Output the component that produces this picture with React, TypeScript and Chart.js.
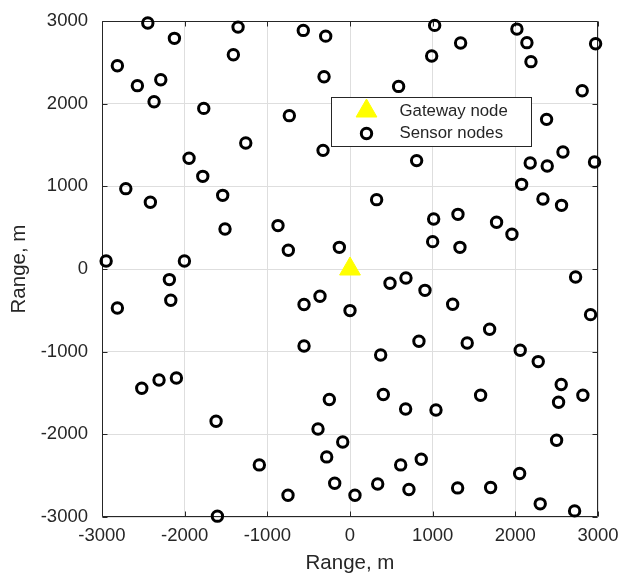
import React, { useEffect, useRef } from 'react';
import { Chart, registerables } from 'chart.js';

Chart.register(...registerables);

const gatewayX = [0];
const gatewayY = [0];

const sensorX = [
  -2446, -2124, -1354, -565, -294, -1411, -2814, -2572, -2289, -2370,
  -314, -1769, -734, -1261, -326, -1947, -1781, -2712, -2415, -1540,
  -1512, -871, -746, -129, -2950, -2003, 1024, 2019, 2140, 1338,
  2971, 988, 2189, 588, 2809, 2378, 806, 2576, 2180, 2386,
  2958, 2076, 322, 2334, 2559, 1012, 1306, 1773, 1959, 1000,
  1330, -2185, -2168, -2814, -556, -363, 0, -556, -2519, -2310,
  -2100, -250, -1620, -387, -88, -282, -1097, -185, -750, 60,
  -1604, 484, 677, 907, 1242, 2729, 2910, 1689, 834, 1418,
  371, 2059, 2277, 2555, 2523, 2817, 403, 673, 1040, 1580,
  2499, 862, 613, 335, 713, 1302, 1701, 2052, 2301, 2717,
];
const sensorY = [
  2975, 2790, 2926, 2886, 2817, 2592, 2459, 2218, 2290, 2024,
  2326, 1943, 1855, 1524, 1435, 1339, 1121, 972, 807, 891,
  484, 525, 226, 262, 97, 97, 2947, 2902, 2738, 2733,
  2725, 2576, 2508, 2209, 2157, 1810, 1311, 1415, 1282, 1246,
  1294, 1024, 839, 847, 770, 605, 661, 565, 420, 331,
  262, -128, -378, -472, -430, -330, -503, -931, -1443, -1342,
  -1318, -1579, -1842, -1935, -2092, -2273, -2370, -2591, -2736, -2737,
  -2990, -173, -108, -258, -427, -97, -552, -729, -874, -895,
  -1040, -983, -1120, -1398, -1612, -1527, -1519, -1693, -1705, -1527,
  -2071, -2301, -2370, -2600, -2668, -2648, -2643, -2474, -2841, -2926,
];

const tickValues = [-3000, -2000, -1000, 0, 1000, 2000, 3000];
const xTitle = 'Range, m';
const yTitle = 'Range, m';
const seriesLabels = ['Gateway node', 'Sensor nodes'];

const AXIS = '#262626';
const GRID = '#dedede';
const YELLOW = '#ffff00';
const FONT = "'Liberation Sans', Arial, Helvetica, sans-serif";

function drawTriangle(ctx: CanvasRenderingContext2D, x: number, y: number, r: number) {
  const TWO_THIRDS_PI = (2 * Math.PI) / 3;
  let rad = 0;
  ctx.beginPath();
  ctx.moveTo(x + Math.sin(rad) * r, y - Math.cos(rad) * r);
  rad += TWO_THIRDS_PI;
  ctx.lineTo(x + Math.sin(rad) * r, y - Math.cos(rad) * r);
  rad += TWO_THIRDS_PI;
  ctx.lineTo(x + Math.sin(rad) * r, y - Math.cos(rad) * r);
  ctx.closePath();
}

const boxPlugin = {
  id: 'matlabBox',
  beforeDatasetsDraw(chart: any) {
    const { ctx, chartArea: a, scales } = chart;
    ctx.save();
    ctx.strokeStyle = AXIS;
    ctx.lineWidth = 1;
    const L = Math.round(a.left) + 0.5;
    const R = Math.round(a.right) - 0.5;
    const T = Math.round(a.top) + 0.5;
    const B = Math.round(a.bottom) - 0.5;
    ctx.beginPath();
    ctx.rect(L, T, R - L, B - T);
    const tl = 5;
    scales.x.ticks.forEach((t: any) => {
      const px = Math.round(scales.x.getPixelForValue(t.value)) + 0.5;
      ctx.moveTo(px, B);
      ctx.lineTo(px, B - tl);
      ctx.moveTo(px, T);
      ctx.lineTo(px, T + tl);
    });
    scales.y.ticks.forEach((t: any) => {
      const py = Math.round(scales.y.getPixelForValue(t.value)) + 0.5;
      ctx.moveTo(L, py);
      ctx.lineTo(L + tl, py);
      ctx.moveTo(R, py);
      ctx.lineTo(R - tl, py);
    });
    ctx.stroke();
    ctx.restore();
  },
};

const legendPlugin = {
  id: 'matlabLegend',
  afterDraw(chart: any) {
    const { ctx, chartArea: a } = chart;
    const ds = chart.data.datasets;
    const L = Math.round(a.left + 229) + 0.5;
    const T = Math.round(a.top + 76) + 0.5;
    const W = 200;
    const H = 49;
    ctx.save();
    ctx.fillStyle = '#ffffff';
    ctx.fillRect(L, T, W, H);
    ctx.strokeStyle = AXIS;
    ctx.lineWidth = 1;
    ctx.strokeRect(L, T, W, H);

    // gateway symbol
    drawTriangle(ctx, L + 35, T + 13.5, ds[0].pointRadius);
    ctx.fillStyle = ds[0].backgroundColor;
    ctx.fill();
    ctx.strokeStyle = ds[0].borderColor;
    ctx.lineWidth = ds[0].borderWidth;
    ctx.stroke();

    // sensor symbol
    ctx.beginPath();
    ctx.arc(L + 35, T + 36, ds[1].pointRadius, 0, Math.PI * 2);
    ctx.strokeStyle = ds[1].borderColor;
    ctx.lineWidth = ds[1].borderWidth;
    ctx.stroke();

    ctx.fillStyle = AXIS;
    ctx.font = `16.8px ${FONT}`;
    ctx.textAlign = 'left';
    ctx.textBaseline = 'middle';
    ctx.fillText(ds[0].label, L + 68, T + 13.5);
    ctx.fillText(ds[1].label, L + 68, T + 36);
    ctx.restore();
  },
};

function zeroPadding(s: any) {
  s.paddingLeft = 0;
  s.paddingRight = 0;
  s.paddingTop = 0;
  s.paddingBottom = 0;
}

export default function App() {
  const ref = useRef<HTMLCanvasElement | null>(null);

  useEffect(() => {
    if (!ref.current) return;
    const gateway = gatewayX.map((x, i) => ({ x, y: gatewayY[i] }));
    const sensors = sensorX.map((x, i) => ({ x, y: sensorY[i] }));

    const axisCommon = (title: string) => ({
      type: 'linear' as const,
      min: -3000,
      max: 3000,
      afterBuildTicks: (s: any) => {
        s.ticks = tickValues.map((v) => ({ value: v }));
      },
      ticks: {
        font: { family: FONT, size: 18.5 },
        color: AXIS,
        maxRotation: 0,
        autoSkip: false,
        callback: (v: any) => String(v),
      },
      grid: { color: GRID, lineWidth: 1, drawTicks: false },
      border: { display: false },
      title: {
        display: true,
        text: title,
        color: AXIS,
        font: { family: FONT, size: 20.5, lineHeight: 1 },
      },
    });

    const xAxis: any = axisCommon(xTitle);
    xAxis.ticks.padding = 8;
    xAxis.title.padding = { top: 0, bottom: 0 };
    xAxis.afterFit = (s: any) => {
      s.height = 57;
      zeroPadding(s);
    };
    const yAxis: any = axisCommon(yTitle);
    yAxis.ticks.padding = 14;
    yAxis.title.padding = { top: 9, bottom: 0 };
    yAxis.afterFit = (s: any) => {
      s.width = 102;
      zeroPadding(s);
    };

    const chart = new Chart(ref.current, {
      type: 'scatter',
      data: {
        datasets: [
          {
            label: seriesLabels[0],
            data: gateway,
            pointStyle: 'triangle',
            pointRadius: 12,
            pointHoverRadius: 12,
            backgroundColor: YELLOW,
            borderColor: YELLOW,
            borderWidth: 1,
            clip: false as any,
          },
          {
            label: seriesLabels[1],
            data: sensors,
            pointStyle: 'circle',
            pointRadius: 5.2,
            pointHoverRadius: 5.2,
            backgroundColor: 'rgba(0,0,0,0)',
            borderColor: '#000000',
            borderWidth: 3,
            clip: false as any,
          },
        ],
      },
      options: {
        responsive: false,
        animation: false,
        devicePixelRatio: 1,
        layout: { padding: { left: 0, right: 21, top: 21, bottom: 0 } },
        plugins: {
          legend: { display: false },
          tooltip: { enabled: false },
        },
        events: [],
        scales: { x: xAxis, y: yAxis },
      },
      plugins: [boxPlugin, legendPlugin],
    });
    return () => chart.destroy();
  }, []);

  return (
    <canvas
      ref={ref}
      width={619}
      height={574}
      style={{ position: 'absolute', left: 0, top: 0, display: 'block', background: '#ffffff' }}
    />
  );
}
